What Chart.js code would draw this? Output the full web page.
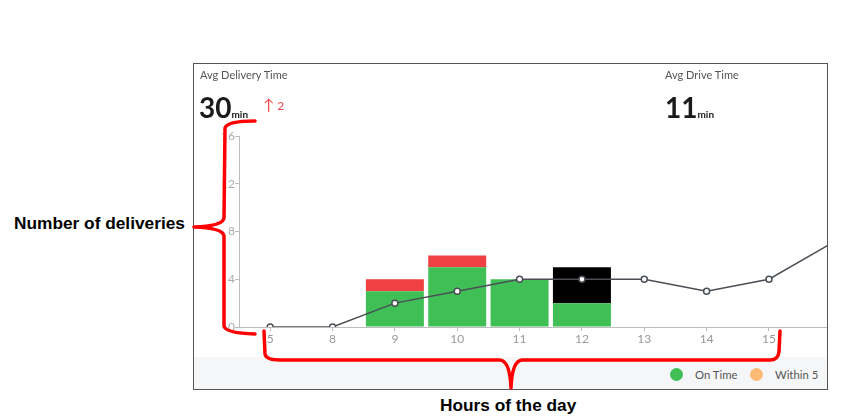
<!DOCTYPE html>
<html>
<head>
<meta charset="utf-8">
<script src="https://cdn.jsdelivr.net/npm/chart.js@4.4.1/dist/chart.umd.min.js"></script>
<style>
  html, body { margin: 0; padding: 0; background: #fff; }
  body { width: 843px; height: 418px; position: relative; overflow: hidden; font-family: Lato, "Open Sans", sans-serif; }
  #card { position: absolute; left: 193px; top: 63px; width: 635px; height: 327px; box-sizing: border-box; border: 1px solid #555; overflow: hidden; background: #fff; }
  #footer { position: absolute; left: 0; right: 0; top: 293px; bottom: 0; background: #f5f6f8; }
  #chartBox { position: absolute; left: 0; top: 0; width: 674px; height: 293px; }
  .lbl { position: absolute; font-size: 11px; color: #555; white-space: nowrap; }
  .big { position: absolute; font-size: 28px; font-weight: 700; color: #1a1a1a; white-space: nowrap; line-height: 1; }
  .big small { font-size: 10px; font-weight: 700; }
  .delta { position: absolute; color: #ef4444; white-space: nowrap; font-size: 15px; line-height: 1; }
  .delta span { font-size: 12px; margin-left: 3px; }
  .legend { position: absolute; top: 11px; font-size: 11.3px; color: #555; display: flex; align-items: center; white-space: nowrap; }
  .dot { display: inline-block; width: 13px; height: 13px; border-radius: 50%; margin-right: 12px; }
  .ann { position: absolute; font-family: "Liberation Sans", Arial, sans-serif; font-weight: 700; font-size: 17.3px; color: #000; white-space: nowrap; }
  svg { position: absolute; left: 0; top: 0; }
</style>
</head>
<body>
<div id="card">
  <div id="footer">
    <div class="legend" style="left:476px;"><span class="dot" style="background:#40bf57"></span>On Time</div>
    <div class="legend" style="left:556px;"><span class="dot" style="background:#fdba74"></span>Within 5</div>
  </div>
  <div id="chartBox"><canvas id="c" width="674" height="293"></canvas></div>
  <div class="lbl" style="left:6px; top:4px;">Avg Delivery Time</div>
  <div class="big" style="left:5px; top:29px;">30<small>min</small></div>
  <div class="delta" style="left:69px; top:33px;">&#8593;<span>2</span></div>
  <div class="lbl" style="left:471px; top:4px;">Avg Drive Time</div>
  <div class="big" style="left:471px; top:29px;">11<small>min</small></div>
</div>
<div class="ann" style="left:14px; top:213px;">Number of deliveries</div>
<div class="ann" style="left:440px; top:395px;">Hours of the day</div>
<svg width="843" height="418">
  <g fill="none" stroke="#ff0000" stroke-width="3.5" stroke-linecap="round" stroke-linejoin="round">
    <path d="M255,121 Q227,121 225,128 L224,218 Q223,226 194,227 Q223,228 224,236 L224,326 Q225,333 255,334"/>
    <path d="M264,331 L265,354 Q266,360 280,360 L500,360 Q510,361 511,388 Q512,361 522,360 L770,360 Q778,360 779,352 L780,331"/>
  </g>
</svg>
<script>
const hours = ['5','8','9','10','11','12','13','14','15','16'];
const onTime = [null, null, 3, 5, 4, 2, null, null, null, null];
const late = [null, null, 1, 1, null, null, null, null, null, null];
const other = [null, null, null, null, null, 3, null, null, null, null];
const avgLine = [0, 0, 2, 3, 4, 4, 4, 3, 4, 7];
const yTicks = [0, 4, 8, 12, 16];
const visibleHours = 9;

const grey = '#bdbdbd';
new Chart(document.getElementById('c'), {
  type: 'bar',
  data: {
    labels: hours,
    datasets: [
      { type: 'line', label: 'Trend', data: avgLine, borderColor: '#4a4f55', borderWidth: 1.5,
        pointRadius: 3, pointBackgroundColor: '#fff', pointBorderColor: '#4a4f55', pointBorderWidth: 1.5,
        tension: 0, order: 0 },
      { label: 'On Time', data: onTime, backgroundColor: '#40bf57', order: 1, stack: 's' },
      { label: 'Late', data: late, backgroundColor: '#ef4043', order: 1, stack: 's' },
      { label: 'Other', data: other, backgroundColor: '#000000', order: 1, stack: 's' }
    ]
  },
  options: {
    responsive: false,
    devicePixelRatio: 1,
    animation: false,
    layout: { padding: { top: 72, left: 0, right: 0, bottom: 0 } },
    datasets: { bar: { barPercentage: 0.93, categoryPercentage: 1 } },
    plugins: { legend: { display: false }, tooltip: { enabled: false } },
    scales: {
      x: {
        stacked: true,
        border: { color: grey, width: 1 },
        grid: { display: true, drawOnChartArea: false, drawTicks: true, tickLength: 4, color: grey, offset: false },
        ticks: { color: '#999', font: { family: 'Lato', size: 12 }, padding: 1, maxRotation: 0,
          callback: (v, i) => i < visibleHours ? hours[i] : '' },
        afterFit: s => { s.height = 30; }
      },
      y: {
        stacked: true,
        min: 0, max: 16,
        afterBuildTicks: s => { s.ticks = yTicks.map(v => ({ value: v })); },
        border: { color: grey, width: 1 },
        grid: { display: true, drawOnChartArea: false, drawTicks: true, tickLength: 4, color: grey },
        ticks: { color: '#aaa', font: { family: 'Lato', size: 12 }, padding: 0 },
        afterFit: s => { s.width = 45; }
      }
    }
  }
});
</script>
</body>
</html>
